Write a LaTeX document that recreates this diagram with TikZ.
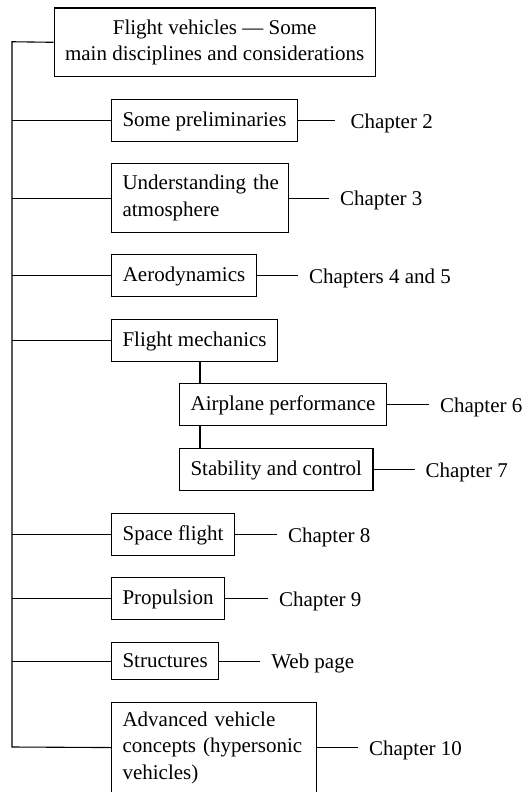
\documentclass[tikz,border=0pt]{standalone}
\usepackage{fontspec}
\setmainfont{Liberation Serif}
\newcommand\bxfont{\fontsize{21}{26.5}\selectfont}
\begin{document}
\begin{tikzpicture}[x=1pt,y=-1pt,line width=1.1pt,
  bx/.style={draw, anchor=north west, inner xsep=11pt, inner ysep=0pt, font=\bxfont},
  one/.style={text height=14pt, text depth=2pt},
  ch/.style={anchor=west, inner xsep=10.5pt, inner ysep=0pt, text height=15pt, text depth=0pt, font=\bxfont}]
\clip (0,0) rectangle (531,792);
% boxes
\node[bx, minimum width=320.5pt, minimum height=68.5pt, align=center] (top) at (53.5,7.5) {Flight vehicles — Some\\main disciplines and considerations};
\node[bx,one, minimum width=185pt, minimum height=42pt] (prelim) at (111,99) {Some preliminaries};
\node[bx, minimum width=177pt, minimum height=69pt, text width=155pt, align=left] (under) at (111,163) {Understanding~the\\atmosphere};
\node[bx,one, minimum width=145pt, minimum height=42pt] (aero) at (111,254) {Aerodynamics};
\node[bx,one, minimum width=166pt, minimum height=42pt] (fmech) at (111,319) {Flight mechanics};
\node[bx,one, minimum width=207pt, minimum height=42pt] (airp) at (179,383) {Airplane performance};
\node[bx,one, minimum width=193pt, minimum height=42pt] (stab) at (179,448) {Stability and control};
\node[bx,one, minimum width=123pt, minimum height=42pt] (space) at (111,513) {Space flight};
\node[bx,one, minimum width=113pt, minimum height=42pt] (prop) at (111,577) {Propulsion};
\node[bx,one, minimum width=107pt, minimum height=37.5pt] (struct) at (111,641.8) {Structures};
\node[bx, minimum width=205pt, minimum height=90pt, text width=183pt, align=left] (adv) at (111,702) {Advanced vehicle\\concepts~(hypersonic\\vehicles)};
% chapter labels
\node[ch] (c2) at ([xshift=41.5pt]prelim.east) {Chapter 2};
\node[ch] (c3) at ([xshift=40pt]under.east) {Chapter 3};
\node[ch] (c45) at ([xshift=41pt]aero.east) {Chapters 4 and 5};
\node[ch] (c6) at ([xshift=42pt]airp.east) {Chapter 6};
\node[ch] (c7) at ([xshift=41pt]stab.east) {Chapter 7};
\node[ch] (c8) at ([xshift=42pt]space.east) {Chapter 8};
\node[ch] (c9) at ([xshift=43pt]prop.east) {Chapter 9};
\node[ch] (cw) at ([xshift=41pt]struct.east) {Web page};
\node[ch] (c10) at ([xshift=41pt]adv.east) {Chapter 10};
% trunk
\coordinate (t0) at (12,41.75);
\coordinate (t1) at (12,747);
\draw (top.west) -- (t0) -- (t1) -- (adv.west);
\foreach \n in {prelim,under,aero,fmech,space,prop,struct}
  \draw (\n.west) -- (\n.west -| t0);
% flight mechanics sub-branch
\draw ([xshift=89pt]fmech.south west) -- ([xshift=21pt]airp.north west);
\draw ([xshift=21pt]airp.south west) -- ([xshift=21pt]stab.north west);
% chapter connectors
\draw[shorten >=4.5pt] (prelim.east) -- (c2.west);
\draw (under.east) -- (c3.west);
\draw (aero.east) -- (c45.west);
\draw (airp.east) -- (c6.west);
\draw (stab.east) -- (c7.west);
\draw (space.east) -- (c8.west);
\draw (prop.east) -- (c9.west);
\draw (struct.east) -- (cw.west);
\draw (adv.east) -- (c10.west);
\end{tikzpicture}
\end{document}
